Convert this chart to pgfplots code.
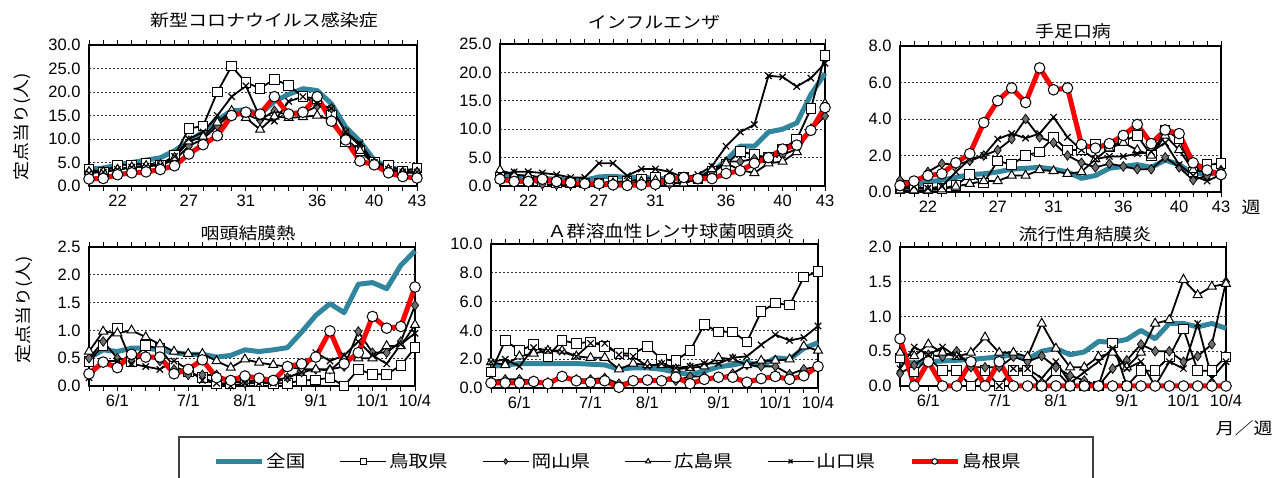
\documentclass[border=0pt]{standalone}
\usepackage{fontspec}
\setmainfont{Liberation Sans}
\newfontfamily\jp[FakeStretch=1.15]{Noto Sans CJK JP}
\usepackage{pgfplots}
\usepackage{pgfplotstable}
\pgfplotsset{compat=1.18}
\definecolor{tealz}{RGB}{49,133,156}
\definecolor{dia}{RGB}{110,110,110}

% columns: w zen tot oka hir yam shi
\pgfplotstableread{
w zen tot oka hir yam shi
20 3.6 3.5 3.0 3.0 2.7 1.5
21 3.8 3.0 3.0 3.0 3.0 1.6
22 4.5 4.5 3.5 3.5 3.5 2.4
23 5.0 4.5 4.0 4.0 4.0 2.8
24 5.5 4.8 4.2 4.3 4.2 3.0
25 6.0 4.5 4.5 4.5 4.5 3.5
26 7.5 6.5 5.5 6.0 6.3 4.3
27 9.5 12.2 8.5 9.5 10.0 6.8
28 11.5 12.8 10.0 10.5 11.5 8.8
29 14.0 20.0 12.8 13.5 15.0 10.7
30 16.0 25.5 15.5 16.0 19.0 15.0
31 16.2 22.0 15.3 14.5 21.3 15.7
32 15.3 20.8 14.0 12.0 14.5 15.3
33 18.0 22.7 16.0 14.8 13.8 19.0
34 19.5 21.4 15.0 14.5 18.0 15.3
35 20.7 19.0 15.5 14.7 19.0 15.7
36 20.3 18.5 17.0 15.0 17.5 19.0
37 17.5 15.0 16.5 14.0 16.5 13.8
38 12.5 9.5 11.5 10.0 11.5 9.8
39 9.5 7.5 8.5 7.5 9.0 5.3
40 5.5 5.0 5.0 4.5 5.0 4.5
41 4.0 4.3 3.5 3.5 3.5 2.8
42 3.3 3.2 3.0 2.8 3.0 2.0
43 3.0 3.8 3.0 2.8 3.0 1.7
}\dataA
\pgfplotstableread{
w zen tot oka hir yam shi
20 1.8 1.5 1.5 2.8 2.0 1.2
21 1.6 1.2 1.0 2.0 2.5 0.8
22 1.5 1.0 1.0 1.8 2.5 0.8
23 1.3 0.8 0.3 1.5 2.3 1.2
24 1.2 0.5 0.2 1.0 2.0 0.8
25 1.0 0.5 0.2 0.8 1.5 0.6
26 1.0 0.5 0.3 0.5 1.5 0.4
27 1.6 0.5 0.3 0.3 4.0 0.4
28 1.7 0.8 0.5 0.5 4.0 0.2
29 1.5 0.8 0.3 0.5 1.8 0.1
30 1.5 1.2 0.5 0.8 3.0 0.2
31 1.4 1.5 0.5 1.0 3.0 0.3
32 1.2 1.0 0.3 0.5 2.5 1.3
33 1.3 1.5 0.8 0.5 1.5 1.5
34 1.5 1.2 1.2 1.2 2.0 1.3
35 2.5 2.5 2.5 3.0 3.5 1.3
36 4.5 3.8 4.3 4.0 7.0 2.2
37 7.0 6.1 4.3 2.8 9.5 2.7
38 7.0 5.5 4.8 2.3 10.8 4.0
39 9.5 5.0 5.0 4.0 19.4 5.0
40 10.0 6.5 5.5 4.3 19.2 6.5
41 11.1 8.2 6.5 6.0 17.5 7.2
42 16.1 13.6 9.8 10.0 19.0 9.8
43 19.8 23.0 12.3 14.5 21.6 13.8
}\dataB
\pgfplotstableread{
w zen tot oka hir yam shi
20 0.3 0.2 0.65 0.1 0.3 0.35
21 0.4 0.2 0.55 0.1 0.3 0.6
22 0.55 0.2 1.1 0.1 0.2 0.9
23 0.65 0.2 1.55 0.15 0.3 1.0
24 0.8 0.35 1.5 0.3 1.1 1.6
25 0.95 0.95 1.7 0.45 1.8 2.1
26 1.0 0.5 2.0 0.6 2.0 3.8
27 1.1 1.7 2.3 0.6 2.9 5.0
28 1.25 1.5 2.9 0.9 3.2 5.7
29 1.3 2.0 4.0 0.9 2.95 4.9
30 1.35 2.2 3.0 1.2 3.2 6.8
31 1.25 3.0 2.7 1.15 4.1 5.6
32 1.1 2.3 2.0 1.0 3.0 5.7
33 0.75 2.3 1.6 1.1 2.3 2.6
34 0.9 2.6 1.35 1.8 1.8 2.4
35 1.3 2.5 1.55 2.4 1.95 2.65
36 1.4 2.8 1.4 2.7 1.95 3.1
37 1.5 3.1 1.25 2.3 2.1 3.7
38 1.35 2.0 1.25 2.0 2.2 2.65
39 1.75 3.4 1.9 3.1 2.7 3.4
40 1.5 2.9 1.35 2.3 1.5 3.2
41 1.0 1.1 0.65 1.2 0.9 1.6
42 1.0 1.5 0.9 1.1 0.6 1.2
43 1.0 1.55 1.2 1.1 0.95 0.95
}\dataC
\pgfplotstableread{
w zen tot oka hir yam shi
20 0.5 0.44 0.5 0.62 0.15 0.22
21 0.65 0.73 0.8 0.98 0.45 0.43
22 0.62 1.04 0.5 0.95 0.45 0.33
23 0.68 0.44 0.45 1.0 0.4 0.57
24 0.68 0.73 0.55 0.88 0.35 0.52
25 0.65 0.67 0.45 0.75 0.3 0.52
26 0.6 0.35 0.3 0.62 0.45 0.22
27 0.57 0.25 0.2 0.58 0.3 0.3
28 0.57 0.15 0.2 0.58 0.1 0.47
29 0.52 0.05 0.2 0.45 0.05 0.15
30 0.55 0.05 0.1 0.33 0.0 0.1
31 0.65 0.1 0.05 0.48 0.05 0.18
32 0.62 0.08 0.1 0.42 0.05 0.14
33 0.65 0.05 0.1 0.38 0.05 0.1
34 0.69 0.05 0.15 0.35 0.15 0.35
35 0.97 0.1 0.25 0.3 0.25 0.4
36 1.27 0.11 0.3 0.3 0.6 0.52
37 1.48 0.15 0.3 0.28 0.45 0.99
38 1.32 0.0 0.35 0.5 0.55 0.4
39 1.83 0.3 0.98 0.5 0.8 0.6
40 1.86 0.21 0.6 0.5 0.55 1.25
41 1.75 0.21 0.6 0.72 0.4 1.04
42 2.17 0.37 0.8 0.72 0.75 1.07
43 2.43 0.69 1.45 1.1 0.95 1.78
}\dataD
\pgfplotstableread{
w zen tot oka hir yam shi
20 1.5 1.1 0.5 1.8 1.8 0.35
21 1.6 3.3 0.6 1.6 2.0 0.35
22 1.7 2.6 0.6 2.2 1.5 0.35
23 1.7 3.0 0.5 2.4 2.8 0.45
24 1.7 2.2 0.4 2.6 2.6 0.3
25 1.7 3.3 0.8 2.6 2.5 0.8
26 1.7 3.1 0.6 2.2 2.2 0.5
27 1.65 3.2 0.6 2.1 3.1 0.4
28 1.6 2.9 0.7 2.1 3.1 0.5
29 1.3 2.4 0.3 1.3 2.3 0.05
30 1.4 2.4 0.5 1.7 2.2 0.5
31 1.4 2.9 0.5 1.6 1.5 0.55
32 1.3 2.0 0.5 1.6 1.7 0.5
33 1.1 1.9 0.5 1.3 1.4 0.75
34 0.93 2.6 0.8 1.4 1.5 0.3
35 1.17 4.4 0.8 1.5 1.7 0.6
36 1.47 3.9 0.7 2.1 1.7 0.75
37 1.6 3.9 1.0 2.0 2.1 0.75
38 1.8 3.2 1.6 1.6 2.2 0.4
39 1.5 5.3 1.5 1.9 3.0 0.65
40 2.1 5.9 1.5 1.9 3.7 0.8
41 2.0 5.75 0.95 2.0 3.3 0.6
42 2.75 7.7 1.3 2.9 3.5 0.85
43 3.15 8.1 1.5 2.6 4.3 1.5
}\dataE
\pgfplotstableread{
w zen tot oka hir yam shi
20 0.35 0.4 0.18 0.48 0.25 0.68
21 0.33 0.2 0.3 0.43 0.56 0.0
22 0.35 0.4 0.45 0.6 0.45 0.35
23 0.36 0.22 0.42 0.48 0.56 0.0
24 0.37 0.22 0.5 0.42 0.42 0.0
25 0.38 0.0 0.27 0.48 0.35 0.35
26 0.4 0.22 0.27 0.7 0.0 0.0
27 0.42 0.0 0.27 0.48 0.0 0.35
28 0.45 0.22 0.42 0.48 0.25 0.0
29 0.39 0.22 0.35 0.42 0.25 0.0
30 0.5 0.0 0.43 0.9 0.11 0.0
31 0.54 0.22 0.27 0.54 0.35 0.0
32 0.45 0.0 0.15 0.27 0.04 0.0
33 0.49 0.0 0.08 0.27 0.2 0.0
34 0.64 0.0 0.0 0.42 0.35 0.0
35 0.63 0.62 0.25 0.48 0.54 0.0
36 0.67 0.0 0.37 0.27 0.25 0.0
37 0.8 0.22 0.6 0.48 0.35 0.0
38 0.68 0.22 0.5 0.9 0.0 0.0
39 0.9 0.42 0.5 0.95 0.35 0.0
40 0.9 0.82 0.35 1.53 0.25 0.0
41 0.85 0.22 0.43 1.31 0.9 0.0
42 0.9 0.22 0.6 1.43 0.11 0.0
43 0.83 0.42 1.5 1.47 0.35 0.0
}\dataF

\pgfplotsset{
  base/.style={anchor=south west, scale only axis, xmin=20, xmax=43, ymin=0,
    clip=false, axis line style={line width=1.8pt},
    xtick={20,...,43}, tick align=outside, major tick length=5pt,
    xtick style={black, line width=0.8pt}, ytick style={draw=none},
    ymajorgrids, grid style={black!80, line width=0.6pt, dash pattern=on 2pt off 2pt},
    tick label style={font=\fontsize{16.5}{19}\selectfont},
    yticklabel style={/pgf/number format/.cd, fixed, fixed zerofill, precision=1, assume math mode=true},
    scaled y ticks=false},
  toprow/.style={xticklabels={,,22,,,,,27,,,,31,,,,,36,,,,40,,,43}},
  botrow/.style={xticklabels={,,6/1,,,,,7/1,,,,8/1,,,,,9/1,,,,10/1,,,10/4}},
  zen/.style={color=tealz, line width=5pt, line join=round, no markers},
  tot/.style={black, line width=1.8pt, mark=square*, mark size=4.8pt, mark options={fill=white, line width=1pt}},
  oka/.style={black, line width=1.8pt, mark=diamond*, mark size=4.8pt, mark options={fill=dia, draw=black, line width=0.7pt}},
  hir/.style={black, line width=1.8pt, mark=triangle*, mark size=5.2pt, mark options={fill=white, line width=1pt}},
  yam/.style={black, line width=1.8pt, mark=x, mark size=4.5pt, mark options={line width=1.2pt}},
  shi/.style={red, line width=5pt, line join=round, mark=*, mark size=5.3pt, mark options={fill=white, draw=black, line width=1pt}},
}
\newcommand{\allplots}[1]{%
  \addplot[zen] table[x=w,y=zen] {#1};
  \addplot[tot] table[x=w,y=tot] {#1};
  \addplot[oka] table[x=w,y=oka] {#1};
  \addplot[hir] table[x=w,y=hir] {#1};
  \addplot[yam] table[x=w,y=yam] {#1};
  \addplot[shi] table[x=w,y=shi] {#1};
}

\begin{document}
\begin{tikzpicture}[x=1pt,y=1pt]
\path[use as bounding box] (0pt,0pt) rectangle (1281pt,478pt);

\begin{axis}[base, toprow, at={(89pt,292pt)}, width=328pt, height=141pt, ymax=30, ytick={0,5,...,30}]
\allplots{\dataA}
\end{axis}
\begin{axis}[base, toprow, at={(500pt,292pt)}, width=325pt, height=142pt, ymax=25, ytick={0,5,...,25}]
\allplots{\dataB}
\end{axis}
\begin{axis}[base, toprow, at={(900pt,286pt)}, width=321pt, height=146pt, ymax=8, ytick={0,2,...,8}]
\allplots{\dataC}
\end{axis}
\begin{axis}[base, botrow, at={(89pt,92pt)}, width=326pt, height=139pt, ymax=2.5, ytick={0,0.5,1,1.5,2,2.5}]
\allplots{\dataD}
\end{axis}
\begin{axis}[base, botrow, at={(491pt,90pt)}, width=327pt, height=144pt, ymax=10, ytick={0,2,...,10},
  legend columns=6,
  legend style={at={(axis description cs:-0.85,-0.51)}, anchor=west, draw=none, fill=none,
    font=\jp\fontsize{17}{19}\selectfont, inner sep=0pt,
    /tikz/every even column/.append style={column sep=32pt}},
  legend image code/.code={\draw[mark repeat=2,mark phase=2,#1,mark size=2.8pt] plot coordinates {(0pt,0pt) (23pt,0pt) (46pt,0pt)};}]
\allplots{\dataE}
\legend{全国,鳥取県,岡山県,広島県,山口県,島根県}
\end{axis}
\begin{axis}[base, botrow, at={(900pt,92pt)}, width=326pt, height=139pt, ymax=2, ytick={0,0.5,1,1.5,2}]
\allplots{\dataF}
\end{axis}

\begin{scope}[every node/.style={font=\jp\fontsize{16.5}{19}\selectfont}]
\node at (264pt,458pt) {新型コロナウイルス感染症};
\node at (654pt,456pt) {インフルエンザ};
\node at (1073pt,447pt) {手足口病};
\node at (248pt,245pt) {咽頭結膜熱};
\node at (671pt,247pt) {Ａ群溶血性レンサ球菌咽頭炎};
\node at (1085pt,244pt) {流行性角結膜炎};
\node[rotate=90] at (22pt,351pt) {定点当り(人)};
\node[rotate=90] at (24pt,168pt) {定点当り(人)};
\node at (1251pt,271pt) {週};
\node at (1244pt,50pt) {月／週};
\end{scope}
\draw[line width=1.2pt, black!75] (179pt,41pt) rectangle (1093pt,-20pt);
\end{tikzpicture}
\end{document}
